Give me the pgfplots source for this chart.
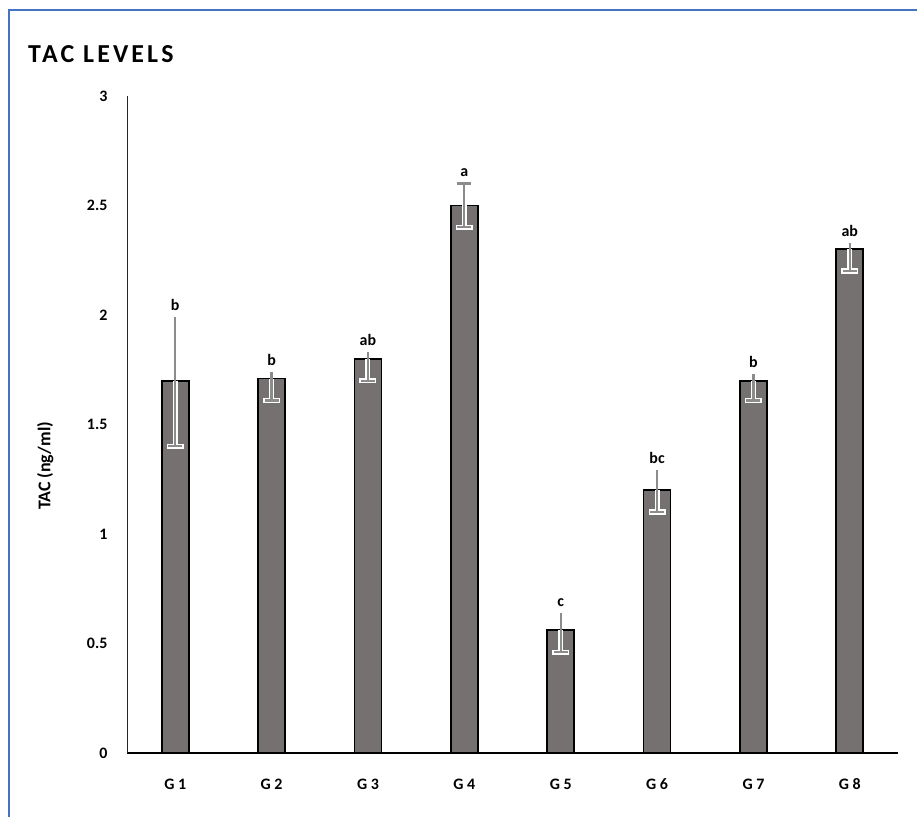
\documentclass[border=0pt]{standalone}
\usepackage{pgfplots}
\usepackage{pgfplotstable}
\pgfplotsset{compat=1.18}
\usepackage{fontspec}
\setmainfont{Carlito}
\definecolor{barc}{HTML}{767171}
\definecolor{errc}{HTML}{8C8C8C}
\definecolor{framec}{HTML}{4472C4}
\pgfplotstableread{
x y ep em top lab
1 1.70 0.29 0.30 1.99 b
2 1.71 0.03 0.10 1.74 b
3 1.80 0.03 0.10 1.83 ab
4 2.50 0.10 0.10 2.60 a
5 0.56 0.08 0.10 0.64 c
6 1.20 0.09 0.10 1.29 bc
7 1.70 0.03 0.09 1.73 b
8 2.30 0.03 0.10 2.33 ab
}\datatab
\pgfplotstableread{
x y ep
4 2.50 0.10
}\capfour
\newcommand{\lblfont}{\fontsize{16}{18}\selectfont\bfseries}
\begin{document}
\begin{tikzpicture}
\path[use as bounding box] (0,0) rectangle (917bp,817bp);
\begin{scope}
\clip (0,0) rectangle (917bp,817bp);
\draw[framec, line width=2bp] (8.5bp,-20bp) -- (8.5bp,806.5bp) -- (940bp,806.5bp);
\end{scope}
\node[anchor=west, inner sep=0pt, font=\fontsize{26}{30}\selectfont\bfseries\addfontfeature{LetterSpace=12}] at (28bp,763bp) {TAC LEVELS};
\begin{axis}[at={(127bp,64bp)}, anchor=south west, scale only axis,
  width=771bp, height=657bp,
  xmin=0.5, xmax=8.5, ymin=0, ymax=3,
  axis x line=bottom, axis y line=left, axis line style={-},
  x axis line style={black, line width=1.5bp},
  y axis line style={black!85, line width=0.8bp},
  xtick={1,2,3,4,5,6,7,8},
  xticklabels={G 1,G 2,G 3,G 4,G 5,G 6,G 7,G 8},
  ytick={0,0.5,1,1.5,2,2.5,3},
  tick style={draw=none},
  /pgf/number format/assume math mode=true,
  ticklabel style={font=\lblfont},
  yticklabel style={xshift=-14bp},
  xticklabel style={yshift=-20bp},
  ylabel={\fontsize{18}{20}\selectfont\bfseries TAC (ng/ml)},
  ylabel style={at={(axis description cs:-0.106,0.437)}, anchor=center},
  clip=false]
\addplot[ybar, bar width=27bp, fill=barc, draw=black, line width=1.8bp] table[x=x,y=y]{\datatab};
% white glow
\addplot[draw=none, mark=none, error bars/.cd, y dir=minus, y explicit, error mark=-,
  error bar style={draw=white, line width=5bp},
  error mark options={draw=white, rotate=90, line width=5.5bp, mark size=8.5bp}]
  table[x=x,y=y,y error minus=em]{\datatab};
% lower error with cap
\addplot[draw=none, mark=none, error bars/.cd, y dir=minus, y explicit, error mark=-,
  error bar style={draw=errc, line width=2.2bp},
  error mark options={draw=errc, rotate=90, line width=2.2bp, mark size=7bp}]
  table[x=x,y=y,y error minus=em]{\datatab};
% upper error without cap
\addplot[draw=none, mark=none, error bars/.cd, y dir=plus, y explicit, error mark=none,
  error bar style={draw=errc, line width=2.2bp}]
  table[x=x,y=y,y error plus=ep]{\datatab};
% G4 upper cap
\addplot[draw=none, mark=none, error bars/.cd, y dir=plus, y explicit, error mark=-,
  error bar style={draw=errc, line width=2.2bp},
  error mark options={draw=errc, rotate=90, line width=2.2bp, mark size=7bp}]
  table[x=x,y=y,y error plus=ep]{\capfour};
% significance letters
\addplot[draw=none, mark=none, nodes near coords, point meta=explicit symbolic,
  nodes near coords style={anchor=south, yshift=3bp, text=black, font=\lblfont}]
  table[x=x,y=top,meta=lab]{\datatab};
\end{axis}
\end{tikzpicture}
\end{document}
